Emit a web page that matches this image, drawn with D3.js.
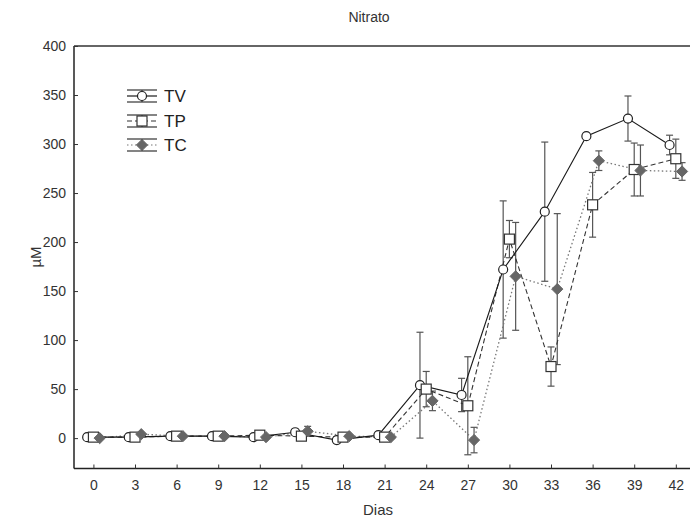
<!DOCTYPE html>
<html>
<head>
<meta charset="utf-8">
<script src="https://cdn.jsdelivr.net/npm/d3@7"></script>
<style>
  body { margin: 0; background: #ffffff; }
  text { font-family: "Liberation Sans", Arial, sans-serif; fill: #333; }
</style>
</head>
<body>
<script>
// Nitrate (uM) per treatment over 42 days
var days = [0, 3, 6, 9, 12, 15, 18, 21, 24, 27, 30, 33, 36, 39, 42];

var tv    = [1, 1, 2, 2, 1, 6, -2, 3, 54, 44, 172, 231, 308, 326, 299];
var tvErr = [1, 1, 1, 1, 1, 2, 1, 1, 54, 17, 70, 71, 2, 23, 10];
var tp    = [1, 1, 2, 2, 3, 2, 1, 1, 50, 33, 203, 73, 238, 274, 285];
var tpErr = [1, 1, 1, 1, 1, 1, 1, 1, 18, 50, 19, 20, 33, 27, 20];
var tc    = [0, 4, 2, 2, 1, 7, 2, 1, 38, -2, 165, 152, 283, 273, 272];
var tcErr = [1, 1, 1, 1, 1, 5, 1, 1, 10, 13, 55, 77, 10, 26, 9];

var yTicks = [0, 50, 100, 150, 200, 250, 300, 350, 400];

var WIDTH = 690, HEIGHT = 522;
var LEFT = 74, TOP = 46, BOTTOM = 468.5;

var svg = d3.select("body").append("svg")
            .attr("width", WIDTH)
            .attr("height", HEIGHT);

svg.append("rect")
   .attr("width", WIDTH)
   .attr("height", HEIGHT)
   .style("fill", "#ffffff");

var x = d3.scaleLinear().domain([-1.4, 43.6]).range([LEFT, 698]);
var y = d3.scaleLinear().domain([-31, 400]).range([BOTTOM, TOP]);

// series definitions: jitter in days so the three groups don't overlap
var series = [
  { name: "TV", values: tv, err: tvErr, shift: -0.45, dash: null,      line: "#1a1a1a", marker: "circle" },
  { name: "TP", values: tp, err: tpErr, shift: 0,     dash: "5,3",     line: "#333333", marker: "square" },
  { name: "TC", values: tc, err: tcErr, shift: 0.45,  dash: "1.5,2.5", line: "#777777", marker: "diamond" }
];

// frame
svg.append("line").attr("x1", LEFT).attr("x2", WIDTH).attr("y1", TOP).attr("y2", TOP)
   .style("stroke", "#666").style("stroke-width", 2);
svg.append("line").attr("x1", LEFT).attr("x2", WIDTH).attr("y1", BOTTOM).attr("y2", BOTTOM)
   .style("stroke", "#222").style("stroke-width", 1.5);
svg.append("line").attr("x1", LEFT).attr("x2", LEFT).attr("y1", TOP).attr("y2", BOTTOM)
   .style("stroke", "#222").style("stroke-width", 1.5);

// axes, ticks pointing inward
var yAxis = svg.append("g")
   .attr("transform", "translate(" + LEFT + ",0)")
   .call(d3.axisLeft(y).tickValues(yTicks).tickSize(-4).tickPadding(8));
var xAxis = svg.append("g")
   .attr("transform", "translate(0," + BOTTOM + ")")
   .call(d3.axisBottom(x).tickValues(days).tickSize(-4).tickPadding(12));

[yAxis, xAxis].forEach(function(ax)
{
  ax.select(".domain").remove();
  ax.selectAll(".tick line").style("stroke", "#333");
  ax.selectAll("text").style("font-size", "14px").style("fill", "#333")
    .attr("font-family", null);
});

// titles
svg.append("text").attr("x", 369).attr("y", 22).attr("text-anchor", "middle")
   .style("font-size", "14px").text("Nitrato");
svg.append("text").attr("x", 378).attr("y", 515).attr("text-anchor", "middle")
   .style("font-size", "15px").text("Dias");
svg.append("text").attr("transform", "translate(41,257) rotate(-90)")
   .attr("text-anchor", "middle").style("font-size", "15px").text("\u00b5M");

function drawMarker(g, kind, cx, cy)
{
  if (kind == "circle")
  {
    g.append("circle").attr("cx", cx).attr("cy", cy).attr("r", 4.5)
     .style("fill", "#fff").style("stroke", "#222").style("stroke-width", 1.2);
  }
  else if (kind == "square")
  {
    g.append("rect").attr("x", cx - 5).attr("y", cy - 5).attr("width", 10).attr("height", 10)
     .style("fill", "#fff").style("stroke", "#333").style("stroke-width", 1.2);
  }
  else
  {
    g.append("path")
     .attr("d", d3.symbol().type(d3.symbolDiamond2).size(80)())
     .attr("transform", "translate(" + cx + "," + cy + ")")
     .style("fill", "#666").style("stroke", "#666");
  }
}

var plot = svg.append("g");

// error bars
series.forEach(function(s)
{
  var g = plot.append("g");
  days.forEach(function(d, i)
  {
    var px = x(d + s.shift);
    var hi = y(s.values[i] + s.err[i]), lo = y(s.values[i] - s.err[i]);
    g.append("line").attr("x1", px).attr("x2", px).attr("y1", hi).attr("y2", lo)
     .style("stroke", "#555").style("stroke-width", 1.2);
    [hi, lo].forEach(function(cy)
    {
      g.append("line").attr("x1", px - 3.5).attr("x2", px + 3.5).attr("y1", cy).attr("y2", cy)
       .style("stroke", "#555").style("stroke-width", 1.2);
    });
  });
});

// lines
series.slice().reverse().forEach(function(s)
{
  var line = d3.line()
               .x(function(d, i) { return x(d + s.shift); })
               .y(function(d, i) { return y(s.values[i]); });
  plot.append("path").datum(days)
      .attr("d", line)
      .style("fill", "none")
      .style("stroke", s.line)
      .style("stroke-width", s.marker == "diamond" ? 1.3 : 1.1)
      .style("stroke-dasharray", s.dash);
});

// markers
series.forEach(function(s)
{
  var g = plot.append("g");
  days.forEach(function(d, i)
  {
    drawMarker(g, s.marker, x(d + s.shift), y(s.values[i]));
  });
});

// legend
var legend = svg.append("g");
var legendY = [96, 121, 145];
series.forEach(function(s, i)
{
  var ly = legendY[i];
  var g = legend.append("g");
  [ly - 6, ly + 6].forEach(function(cy)
  {
    g.append("line").attr("x1", 127).attr("x2", 157).attr("y1", cy).attr("y2", cy)
     .style("stroke", "#333").style("stroke-width", 1.2);
  });
  g.append("line").attr("x1", 142).attr("x2", 142).attr("y1", ly - 6).attr("y2", ly + 6)
   .style("stroke", "#333").style("stroke-width", 1.2);
  g.append("line").attr("x1", 127).attr("x2", 157).attr("y1", ly).attr("y2", ly)
   .style("stroke", s.line).style("stroke-width", 1.2)
   .style("stroke-dasharray", s.dash);
  drawMarker(g, s.marker, 142, ly);
  g.append("text").attr("x", 164).attr("y", ly + 6)
   .style("font-size", "17px").style("fill", "#222").text(s.name);
});
</script>
</body>
</html>
